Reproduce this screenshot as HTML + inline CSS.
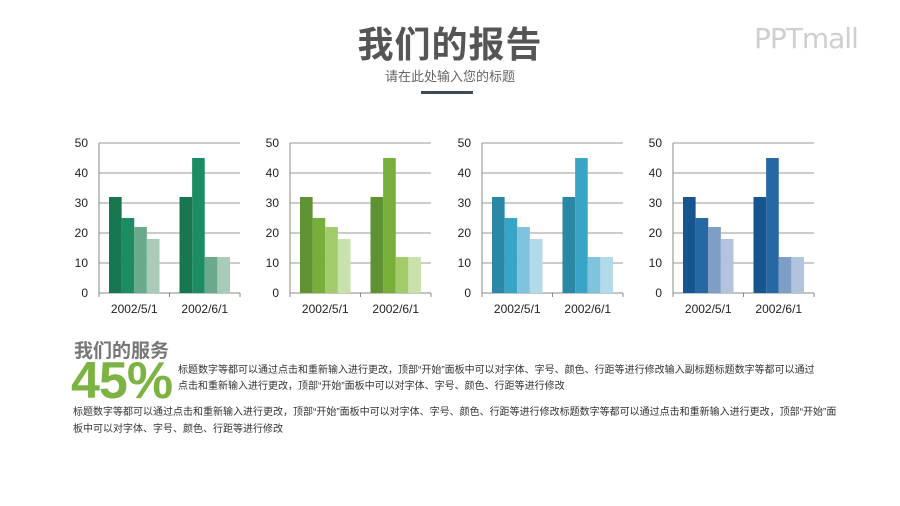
<!DOCTYPE html>
<html><head><meta charset="utf-8"><style>
body{margin:0;width:900px;height:506px;background:#fff;overflow:hidden;position:relative;font-family:"Liberation Sans","Noto Sans CJK SC",sans-serif}
.a{position:absolute}
</style></head><body>
<div class="a" style="left:0;width:900px;top:16px;text-align:center;font-size:36px;font-weight:bold;color:#555;letter-spacing:1px">我们的报告</div>
<div class="a" style="left:0;width:900px;top:66px;text-align:center;font-size:13px;color:#666">请在此处输入您的标题</div>
<div class="a" style="left:421px;top:91px;width:52px;height:3px;background:#3d4a5c"></div>
<div class="a" style="left:754px;top:22px;font-size:28px;color:#cfcfcf;font-family:'DejaVu Sans',sans-serif;letter-spacing:-1px">PPTmall</div>
<svg class="a" style="left:0;top:0" width="900" height="330" id="svg"></svg>
<div class="a" style="left:74px;top:336px;font-size:19px;font-weight:bold;color:#777">我们的服务</div>
<div class="a" style="left:71px;top:355px;font-size:52px;font-weight:bold;color:#7cb342;line-height:52px;letter-spacing:-1px">45%</div>
<div class="a" style="left:178px;top:363px;width:645px;font-size:10px;line-height:16px;color:#333">标题数字等都可以通过点击和重新输入进行更改，顶部“开始”面板中可以对字体、字号、颜色、行距等进行修改输入副标题标题数字等都可以通过点击和重新输入进行更改，顶部“开始”面板中可以对字体、字号、颜色、行距等进行修改</div>
<div class="a" style="left:73px;top:404px;width:770px;font-size:10px;line-height:17px;color:#333">标题数字等都可以通过点击和重新输入进行更改，顶部“开始”面板中可以对字体、字号、颜色、行距等进行修改标题数字等都可以通过点击和重新输入进行更改，顶部“开始”面板中可以对字体、字号、颜色、行距等进行修改</div>
<script>
const categories=["2002/5/1","2002/6/1"];
const series1=[32,32];
const series2=[25,45];
const series3=[22,12];
const series4=[18,12];
const yTicks=[0,10,20,30,40,50];
const palettes=[["#17754f","#1d8c62","#6aa98c","#a9cbba"],["#5f9232","#78ae3a","#a2cb6c","#c9e1aa"],["#2a88a6","#38a5c6","#7fc4dc","#b2dae8"],["#17558e","#2668a4","#7e9ec6","#b1c3dd"]];
const lefts=[99,290,482,673];
const S="http://www.w3.org/2000/svg";const svg=document.getElementById('svg');
function mk(t,a){const e=document.createElementNS(S,t);for(const k in a)e.setAttribute(k,a[k]);svg.appendChild(e);return e;}
const W=141,top0=143,H=150,ymax=50;
function yS(v){return top0+H-v/ymax*H;}
const all=[series1,series2,series3,series4];
lefts.forEach((L,ci)=>{
 const cw=W/categories.length;
 yTicks.forEach(t=>{
  const l=mk('line',{x1:L,x2:L+W,y1:yS(t),y2:yS(t),stroke:t===0?'#888':'#999','stroke-width':1});
  
  
  const tx=mk('text',{x:L-11,y:yS(t)+4,'text-anchor':'end','font-size':12,fill:'#222'});tx.textContent=t;
  
  
 });
 mk('line',{x1:L,x2:L,y1:top0,y2:top0+H,stroke:'#888'});
 for(let i=0;i<=categories.length;i++){mk('line',{x1:L+i*cw,x2:L+i*cw,y1:top0+H,y2:top0+H+4,stroke:'#888'});}
 categories.forEach((c,i)=>{
  const bw=(cw-20)/4;
  all.forEach((s,si)=>{
   const x=L+i*cw+10+si*bw;
   const r=mk('rect',{x:x,y:yS(s[i]),width:bw,height:s[i]/ymax*H,fill:palettes[ci][si]});
   
   
  });
  const tx=mk('text',{x:L+i*cw+cw/2,y:top0+H+20,'text-anchor':'middle','font-size':12,fill:'#222'});tx.textContent=c;
  
  
 });
});
</script>
</body></html>
